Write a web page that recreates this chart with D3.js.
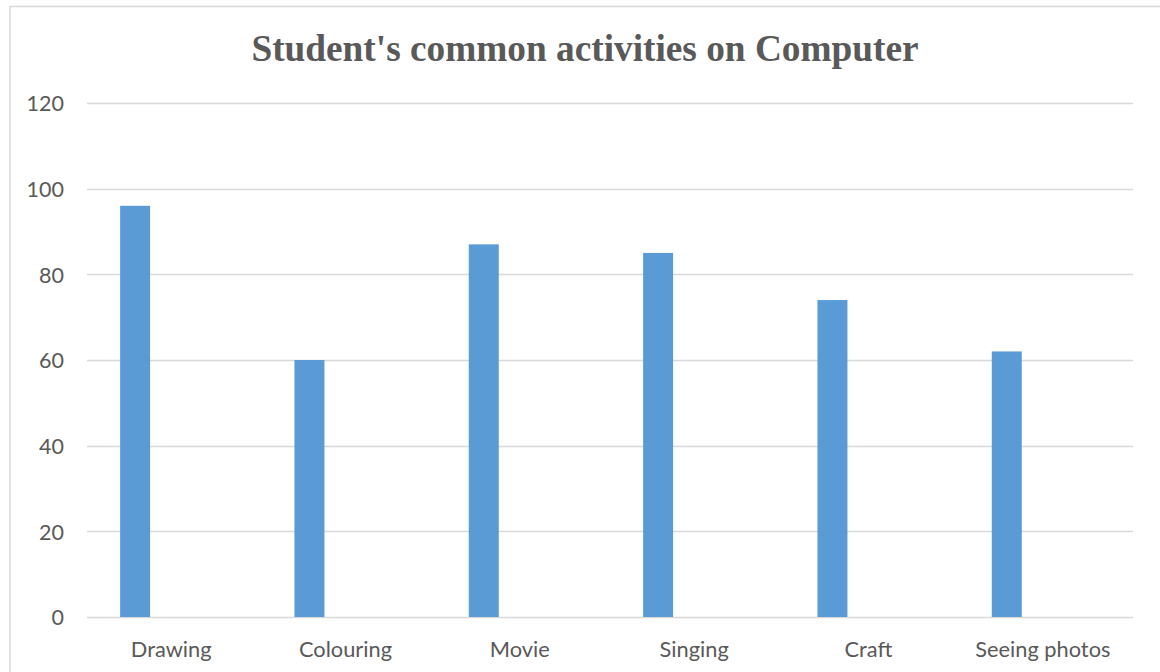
<!DOCTYPE html>
<html>
<head>
<meta charset="utf-8">
<script src="https://cdn.jsdelivr.net/npm/d3@7"></script>
<style>
  html, body { margin: 0; padding: 0; background: #fff; }
  svg { display: block; }
</style>
</head>
<body>
<svg id="chart" width="1160" height="672"></svg>
<script>
const categories = ["Drawing", "Colouring", "Movie", "Singing", "Craft", "Seeing photos"];
const values = [96, 60, 87, 85, 74, 62];
const yTicks = [0, 20, 40, 60, 80, 100, 120];
const title = "Student's common activities on Computer";

const svg = d3.select("#chart");
const W = 1160, H = 672;
const plotLeft = 87, plotRight = 1133, plotTop = 103, plotBottom = 617;

// outer chart border
svg.append("rect")
  .attr("x", 10).attr("y", 6.5)
  .attr("width", W + 20).attr("height", H + 20)
  .attr("fill", "none").attr("stroke", "#d9d9d9").attr("stroke-width", 1.5);

const x = d3.scaleBand().domain(categories).range([plotLeft, plotRight]).paddingInner(0).paddingOuter(0);
const y = d3.scaleLinear().domain([0, 120]).range([plotBottom, plotTop]);

// gridlines
svg.append("g")
  .selectAll("line")
  .data(yTicks)
  .join("line")
  .attr("x1", plotLeft).attr("x2", plotRight)
  .attr("y1", d => Math.round(y(d)) + 0.5).attr("y2", d => Math.round(y(d)) + 0.5)
  .attr("stroke", "#d9d9d9").attr("stroke-width", 1.3);

// y axis labels
const yAxis = d3.axisLeft(y).tickValues(yTicks).tickSize(0).tickPadding(0);
const gy = svg.append("g").attr("transform", `translate(64,0)`).call(yAxis);
gy.select(".domain").remove();
gy.selectAll("text")
  .attr("font-family", "Lato, 'Open Sans', sans-serif")
  .attr("font-size", 21.5)
  .attr("fill", "#595959")
  .attr("dy", "0.36em");

// bars
svg.append("g")
  .selectAll("rect")
  .data(categories.map((c, i) => ({ c, v: values[i] })))
  .join("rect")
  .attr("x", d => x(d.c) + x.bandwidth() * 0.19)
  .attr("width", x.bandwidth() * 0.172)
  .attr("y", d => y(d.v))
  .attr("height", d => y(0) - y(d.v))
  .attr("fill", "#5b9bd5");

// x axis labels
const xAxis = d3.axisBottom(x).tickSize(0).tickPadding(0);
const gx = svg.append("g").attr("transform", `translate(-3,${plotBottom})`).call(xAxis);
gx.select(".domain").remove();
gx.selectAll("text")
  .attr("font-family", "Lato, 'Open Sans', sans-serif")
  .attr("font-size", 21.8)
  .attr("fill", "#595959")
  .attr("dy", null)
  .attr("y", 40);

// title
svg.append("text")
  .attr("x", 585).attr("y", 61)
  .attr("text-anchor", "middle")
  .attr("font-family", "'Liberation Serif', 'Times New Roman', serif")
  .attr("font-weight", "bold")
  .attr("font-size", 37.3)
  .attr("fill", "#595959")
  .text(title);
</script>
</body>
</html>
